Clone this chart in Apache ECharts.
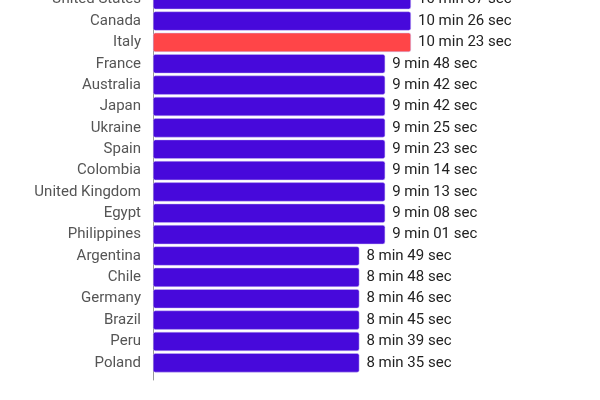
<!DOCTYPE html>
<html><head><meta charset="utf-8">
<script src="https://cdn.jsdelivr.net/npm/echarts@6/dist/echarts.min.js"></script>
<style>html,body{margin:0;padding:0;background:#fff;overflow:hidden}#c{position:relative;top:-11px;width:600px;height:411px}</style>
</head><body><div id="c"></div>
<script>
const countries = ["United States","Canada","Italy","France","Australia","Japan","Ukraine","Spain","Colombia","United Kingdom","Egypt","Philippines","Argentina","Chile","Germany","Brazil","Peru","Poland"];
const minutes = [10,10,10,9,9,9,9,9,9,9,9,9,8,8,8,8,8,8];
const seconds = [37,26,23,48,42,42,25,23,14,13,8,1,49,48,46,45,39,35];
const highlight = "Italy";

const chart = echarts.init(document.getElementById('c'));
chart.setOption({
  animation: false,
  grid: [
    {left: 153, right: 189, top: 0, bottom: 26.5},
    {left: 153, width: 1, top: 0, bottom: 20}
  ],
  xAxis: [
    {type: 'value', gridIndex: 0, min: 0, max: 'dataMax', show: false},
    {type: 'value', gridIndex: 1, show: false}
  ],
  yAxis: [
    {type: 'category', gridIndex: 0, inverse: true, data: countries,
     axisLine: {show: false}, axisTick: {show: false},
     axisLabel: {color: '#555', fontSize: 15, fontFamily: 'Roboto', margin: 12}},
    {type: 'value', gridIndex: 1, min: 0, max: 1,
     axisLine: {show: true, lineStyle: {color: '#999', width: 1}},
     axisTick: {show: false}, axisLabel: {show: false}, splitLine: {show: false}}
  ],
  series: [{
    type: 'bar', xAxisIndex: 0, yAxisIndex: 0,
    barCategoryGap: '10%',
    data: minutes.map((m, i) => ({
      value: m,
      itemStyle: {color: countries[i] === highlight ? '#ff4548' : '#4709db'}
    })),
    itemStyle: {borderRadius: 2, borderColor: 'rgba(200,185,245,0.8)', borderWidth: 0.6},
    label: {
      show: true, position: 'right', distance: 7,
      color: '#222', fontSize: 15, fontFamily: 'Roboto',
      formatter: p => minutes[p.dataIndex] + ' min ' + String(seconds[p.dataIndex]).padStart(2, '0') + ' sec'
    }
  }]
});
</script></body></html>
